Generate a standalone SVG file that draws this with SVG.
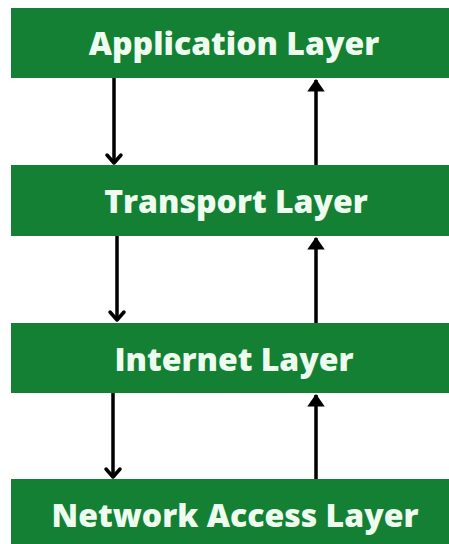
<svg xmlns="http://www.w3.org/2000/svg" width="449" height="544" viewBox="0 0 449 544">
<style>
.box{fill:#138033}
.lbl{font-family:"Open Sans","Liberation Sans",sans-serif;font-weight:800;font-size:32px;fill:#eefcef;text-anchor:middle}
.ln{stroke:#000;stroke-width:3.5;fill:none}
.chev{stroke:#000;stroke-width:3.5;fill:none;stroke-linecap:round;stroke-linejoin:round}
</style>
<defs>
<marker id="up" markerWidth="5" markerHeight="4" refX="2.5" refY="0.3" orient="0" markerUnits="strokeWidth">
<path d="M0,3.6 L2.5,0 L5,3.6 Z" fill="#000"/>
</marker>
</defs>
<rect width="449" height="544" fill="#fff"/>
<g id="app"><rect class="box" x="11" y="8" width="438" height="70"/><text class="lbl" x="234" y="55">Application Layer</text></g>
<g id="transport"><rect class="box" x="11" y="165" width="438" height="71"/><text class="lbl" x="236" y="213">Transport Layer</text></g>
<g id="internet"><rect class="box" x="11" y="323" width="438" height="70"/><text class="lbl" x="234" y="371">Internet Layer</text></g>
<g id="netaccess"><rect class="box" x="11" y="479" width="438" height="65"/><text class="lbl" x="235" y="527">Network Access Layer</text></g>
<g id="connectors">
<line class="ln" x1="114" y1="78" x2="114" y2="163"/>
<polyline class="chev" points="107,155 114,163 121,155"/>
<line class="ln" x1="117" y1="236" x2="117" y2="320"/>
<polyline class="chev" points="110,312 117,320 124,312"/>
<line class="ln" x1="113" y1="393" x2="113" y2="477"/>
<polyline class="chev" points="106,469 113,477 120,469"/>
<line class="ln" x1="316" y1="165" x2="316" y2="80" marker-end="url(#up)"/>
<line class="ln" x1="316" y1="323" x2="316" y2="238" marker-end="url(#up)"/>
<line class="ln" x1="316" y1="479" x2="316" y2="395" marker-end="url(#up)"/>
</g>
</svg>
